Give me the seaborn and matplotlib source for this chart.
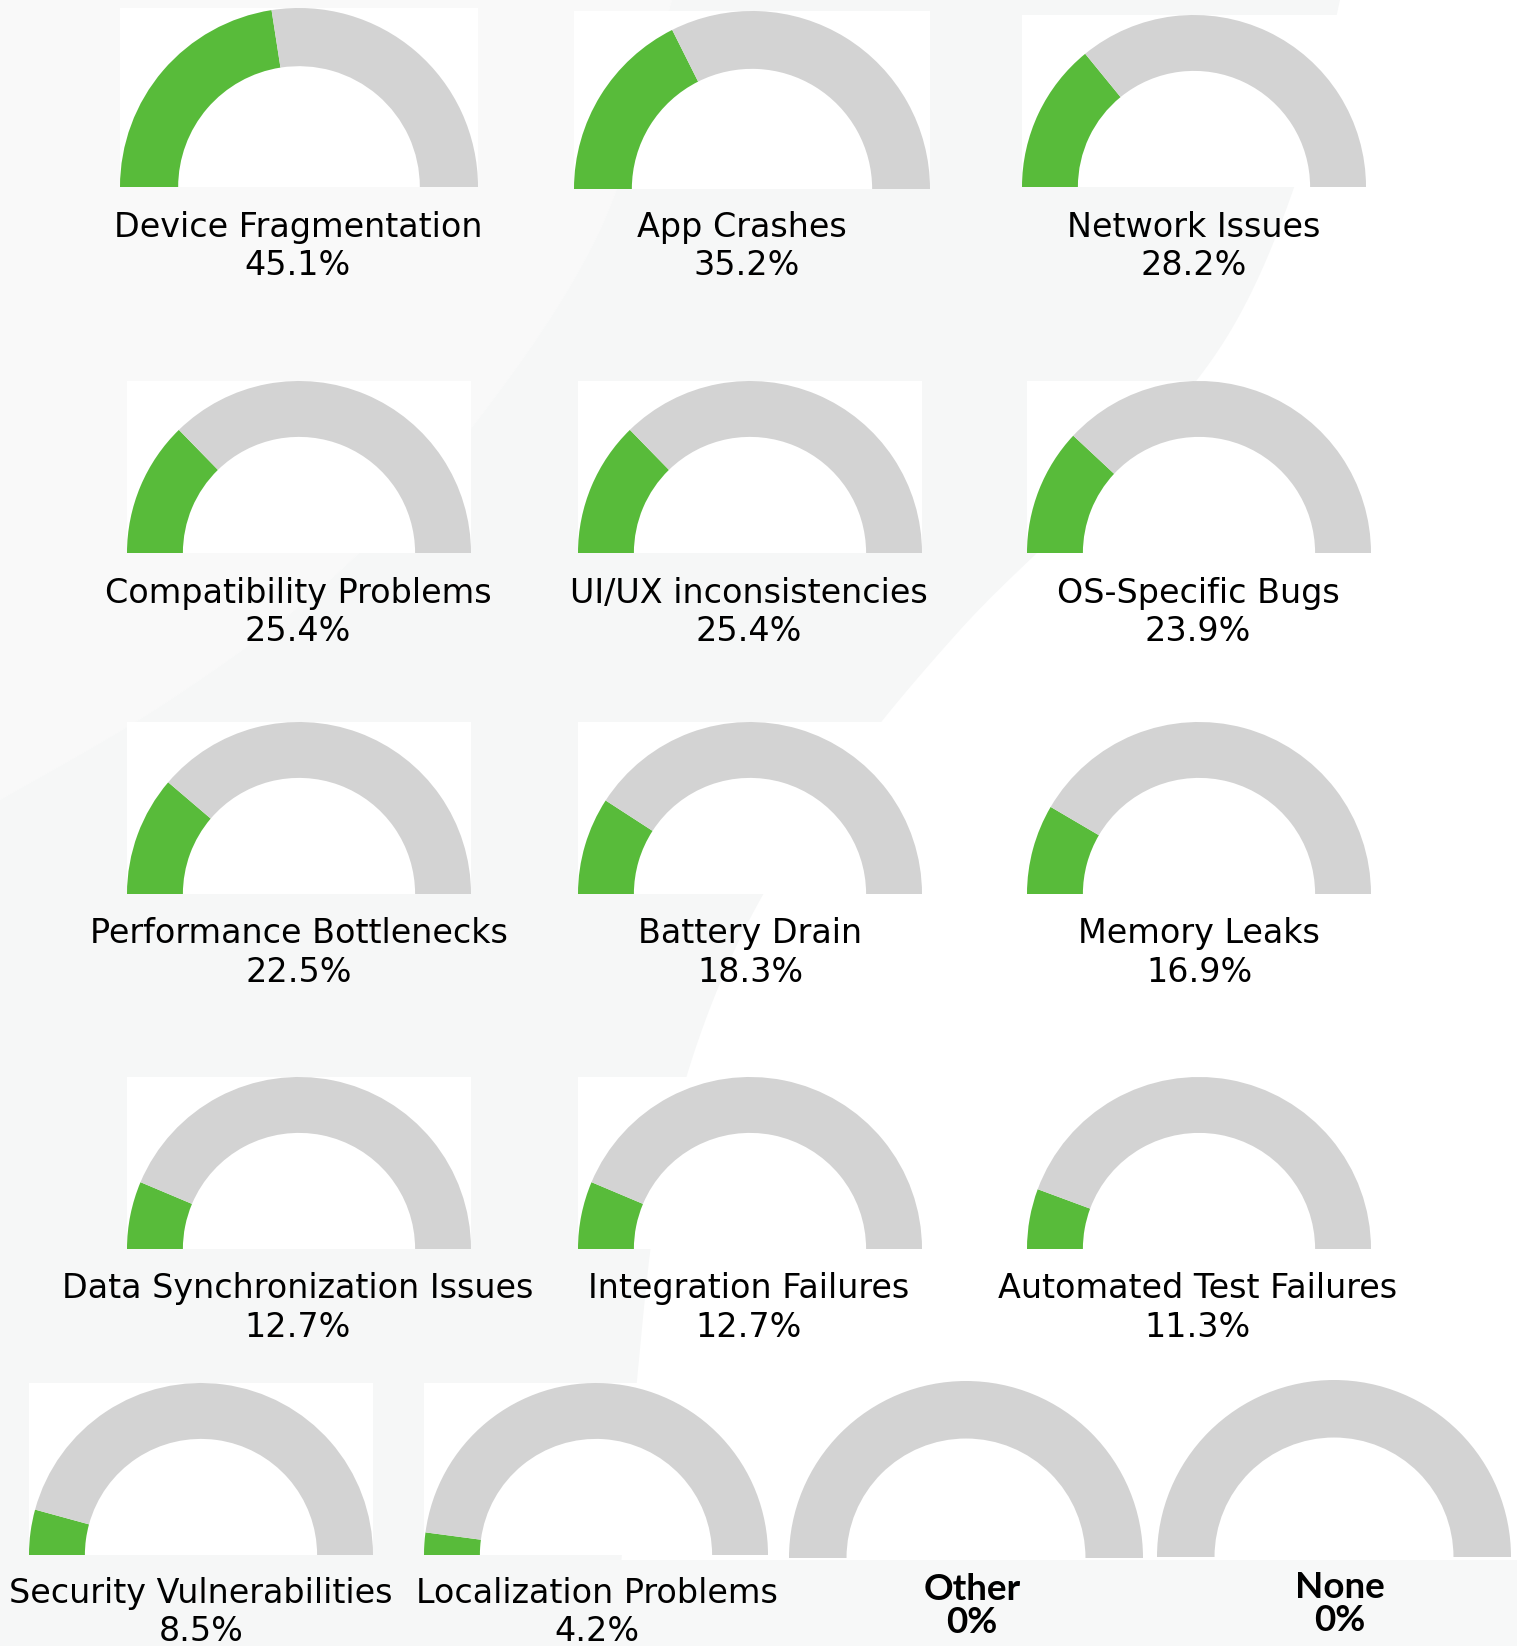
import matplotlib
matplotlib.use("Agg")
import numpy as np
import matplotlib.pyplot as plt
from matplotlib.patches import Polygon
import seaborn as sns

sns.set_theme(style="white")
plt.rcParams["font.family"] = ["DejaVu Sans"]

# ---- data -------------------------------------------------------------
categories = [
    "Device Fragmentation", "App Crashes", "Network Issues",
    "Compatibility Problems", "UI/UX inconsistencies", "OS-Specific Bugs",
    "Performance Bottlenecks", "Battery Drain", "Memory Leaks",
    "Data Synchronization Issues", "Integration Failures", "Automated Test Failures",
    "Security Vulnerabilities", "Localization Problems", "Other", "None",
]
values = [45.1, 35.2, 28.2,
          25.4, 25.4, 23.9,
          22.5, 18.3, 16.9,
          12.7, 12.7, 11.3,
          8.5, 4.2, 0, 0]

GREEN = "#58bb3a"
GRAY = "#d3d3d3"

W, H = 1517, 1646
fig = plt.figure(figsize=(W / 100, H / 100), dpi=100)
fig.patch.set_facecolor("white")


def smooth(points, n=60):
    """Catmull-Rom smoothing of a poly-line of control points."""
    pts = np.asarray(points, float)
    out = []
    for k in range(len(pts) - 1):
        p0 = pts[max(k - 1, 0)]
        p1, p2 = pts[k], pts[k + 1]
        p3 = pts[min(k + 2, len(pts) - 1)]
        t = np.linspace(0, 1, n, endpoint=False)[:, None]
        out.append(0.5 * ((2 * p1) + (-p0 + p2) * t
                          + (2 * p0 - 5 * p1 + 4 * p2 - p3) * t ** 2
                          + (-p0 + 3 * p1 - 3 * p2 + p3) * t ** 3))
    out.append(pts[-1:])
    return np.vstack(out)


# ---- soft decorative backdrop ----------------------------------------
bg = fig.add_axes([0, 0, 1, 1], zorder=-10)
bg.set_xlim(0, W)
bg.set_ylim(H, 0)
bg.axis("off")

inner_edge = smooth([(672, 0), (600, 230), (470, 430), (330, 580), (170, 700), (0, 800)])
outer_edge = smooth([(1340, 0), (1300, 170), (1225, 340), (1100, 490), (960, 630),
                     (830, 790), (730, 960), (665, 1160), (635, 1400), (615, 1646)])

bg.add_patch(Polygon(np.vstack([[(0, 0)], inner_edge]), closed=True,
                     fc="#f9f9f9", ec="none"))
band = np.vstack([outer_edge, [(0, 1646)], inner_edge[::-1]])
bg.add_patch(Polygon(band, closed=True, fc="#f6f7f7", ec="none"))
bg.add_patch(Polygon([(600, 1560), (1517, 1560), (1517, 1646), (600, 1646)],
                     closed=True, fc="#f7f8f8", ec="none"))

# ---- layout (pixel units): gauge centre x, radius, baseline y ----------
gauge_cx = [299, 752, 1194,
            299, 750, 1199,
            299, 750, 1199,
            299, 750, 1199,
            201, 596, 966, 1334]
gauge_r = [179, 178, 172,
           172, 172, 172,
           172, 172, 172,
           172, 172, 172,
           172, 172, 177, 177]
gauge_base = [187, 189, 187,
              553, 553, 553,
              894, 894, 894,
              1249, 1249, 1249,
              1555, 1555, 1558, 1557]
label_x = [298, 742, 1194,
           298, 749, 1198,
           299, 750, 1199,
           298, 749, 1198,
           201, 597, 972, 1340]
name_base = [237] * 3 + [603] * 3 + [943] * 3 + [1298] * 3 + [1603, 1603, 1600, 1598]
pct_base = [275] * 3 + [641] * 3 + [982] * 3 + [1337] * 3 + [1641, 1641, 1633, 1631]

for i, (cat, val) in enumerate(zip(categories, values)):
    cx, r, yb = gauge_cx[i], gauge_r[i], gauge_base[i]
    ax = fig.add_axes([(cx - r) / W, 1 - yb / H, 2 * r / W, r / H])
    # upper half of a donut: value, remainder, and an invisible lower half
    ax.pie([val, 100 - val, 100],
           colors=[GREEN, GRAY, "none"],
           startangle=180, counterclock=False, radius=1.0,
           wedgeprops=dict(width=0.325, edgecolor="none", linewidth=0))
    ax.set_aspect("auto")
    ax.set_xlim(-1, 1)
    ax.set_ylim(0, 1)
    ax.set_frame_on(True)
    ax.set_facecolor("white")
    for s in ax.spines.values():
        s.set_visible(False)
    ax.set_xticks([])
    ax.set_yticks([])

    pct = f"{val:g}%"
    if val == 0:
        kw = dict(family=["Lato", "DejaVu Sans"], fontweight="bold", fontsize=26.5)
    else:
        kw = dict(family=["DejaVu Sans"], fontsize=24)
    fig.text(label_x[i] / W, 1 - name_base[i] / H, cat, ha="center",
             va="baseline", color="black", **kw)
    px = label_x[i] + (5 if i == 1 else 0)
    fig.text(px / W, 1 - pct_base[i] / H, pct, ha="center",
             va="baseline", color="black", **kw)

fig.savefig("out.png", dpi=100, facecolor=fig.get_facecolor())
